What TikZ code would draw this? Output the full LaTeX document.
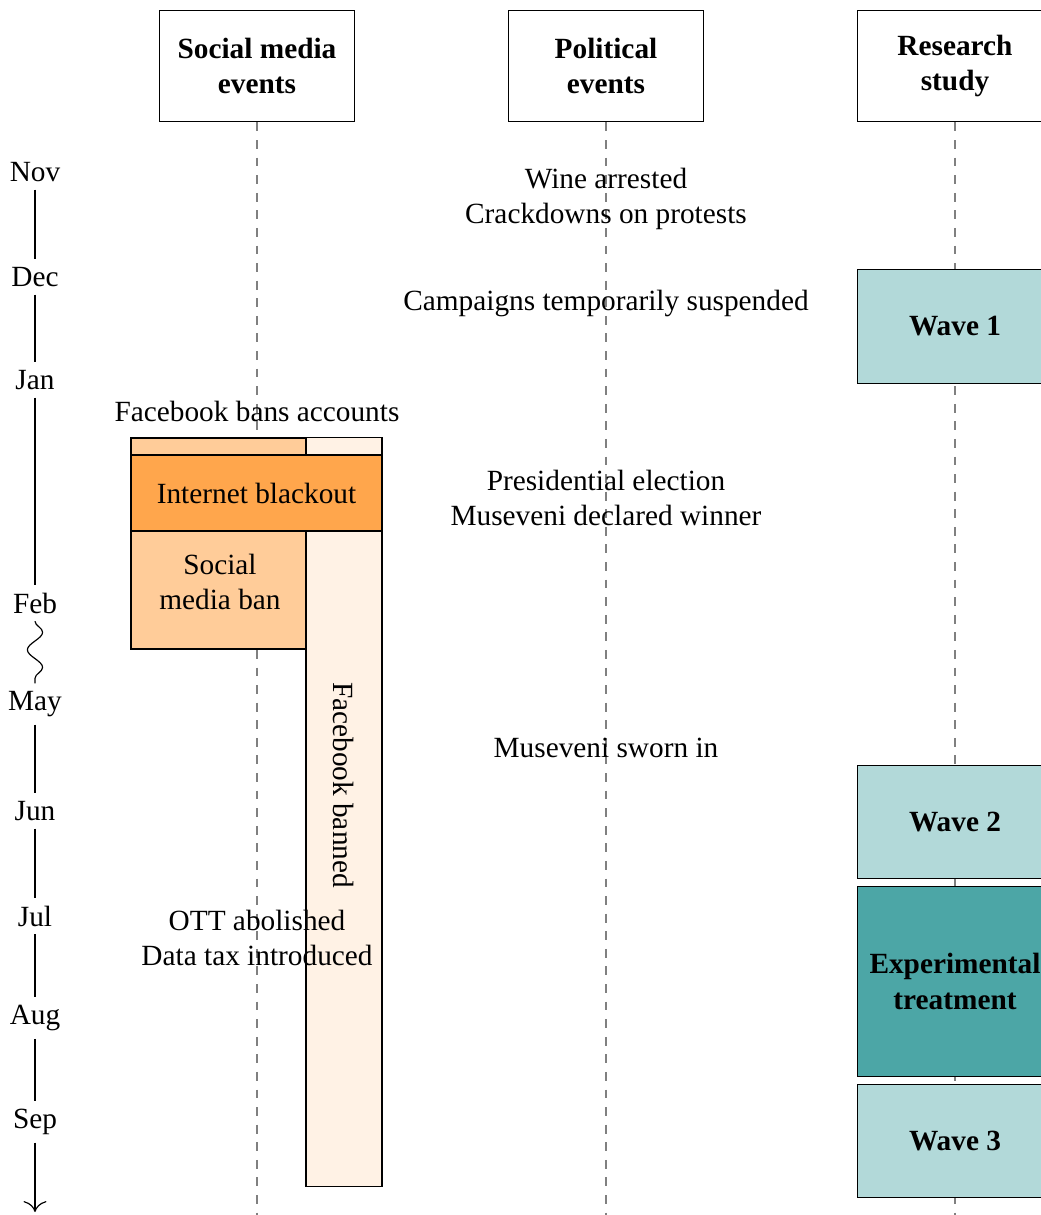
\documentclass[tikz,border=0pt]{standalone}
\usepackage{fontspec}
\setmainfont{Liberation Serif}
\usetikzlibrary{decorations.pathmorphing,arrows.meta}
\begin{document}
\begin{tikzpicture}
		[x=0.012cm,y=-0.012cm,
		header/.style={draw,font=\bfseries,align=center,minimum width=2.33cm,minimum height=1.34cm},
		wave/.style={draw,fill=teal!30,font=\bfseries,align=center,minimum width=2.33cm,minimum height=1.35cm},
		event/.style={align=center},
		month/.style={inner sep=2.5pt},
		lane/.style={dashed,gray}]
		\useasboundingbox (0,0) rectangle (1040,1215);
		% column headers
		\node[header,name=social] at (257,66) {Social media\\events};
		\node[header,name=political] at (606,66) {Political\\events};
		\node[header,name=research] at (955,66) {Research\\study};
		\coordinate (bottom) at (0,1215);
		\foreach \c in {social,political,research}
		{
			\draw[lane] (\c) -- (\c |- bottom);
		}
		% time axis
		\foreach \m/\y in {Nov/172,Dec/277,Jan/380,Feb/603,May/704,Jun/811,Jul/916,Aug/1018,Sep/1122}
		{
			\node[month,name=\m] at (35,\y) {\m};
		}
		\foreach \a/\b in {Nov/Dec,Dec/Jan,Jan/Feb,May/Jun,Jun/Jul,Jul/Aug,Aug/Sep}
		{
			\draw (\a) -- (\b);
		}
		\draw[decorate,decoration={snake,amplitude=2.6pt,segment length=12pt}] (Feb) -- (May);
		\coordinate (axisend) at (35,1212);
		\draw[-{To[scale=1.5]}] (Sep) -- (axisend);
		% social media events
		\node[draw,fill=orange!10,minimum width=0.912cm,minimum height=8.976cm,name=fbbanned] at (344,812) {};
		\node[draw,fill=orange!40,minimum width=2.1cm,minimum height=2.532cm,name=smban] at (218.5,543.5) {};
		\node[draw,fill=orange!70,minimum width=3.012cm,minimum height=0.912cm,name=blackout] at (256.5,493) {Internet blackout};
		\node[event,name=smbantext] at (220,582) {Social\\media ban};
		\node[rotate=-90,name=fbtext] at (344,785) {Facebook banned};
		\node[event,name=fbaccounts] at (257,411) {Facebook bans accounts};
		\node[event,name=ott] at (257,938) {OTT abolished\\Data tax introduced};
		% political events
		\node[event,name=wine] at (606,199) {Wine arrested\\Crackdowns on protests};
		\node[event,name=campaigns] at (606,303) {Campaigns temporarily suspended};
		\node[event,name=election] at (606,498) {Presidential election\\Museveni declared winner};
		\node[event,name=sworn] at (606,748) {Museveni sworn in};
		% research study
		\node[wave,name=wave1,minimum height=1.36cm] at (955,326.5) {Wave 1};
		\node[wave,name=wave2] at (955,822) {Wave 2};
		\node[wave,name=treatment,fill=teal!70,minimum height=2.27cm] at (955,981.5) {Experimental\\treatment};
		\node[wave,name=wave3] at (955,1141) {Wave 3};
	\end{tikzpicture}
\end{document}
